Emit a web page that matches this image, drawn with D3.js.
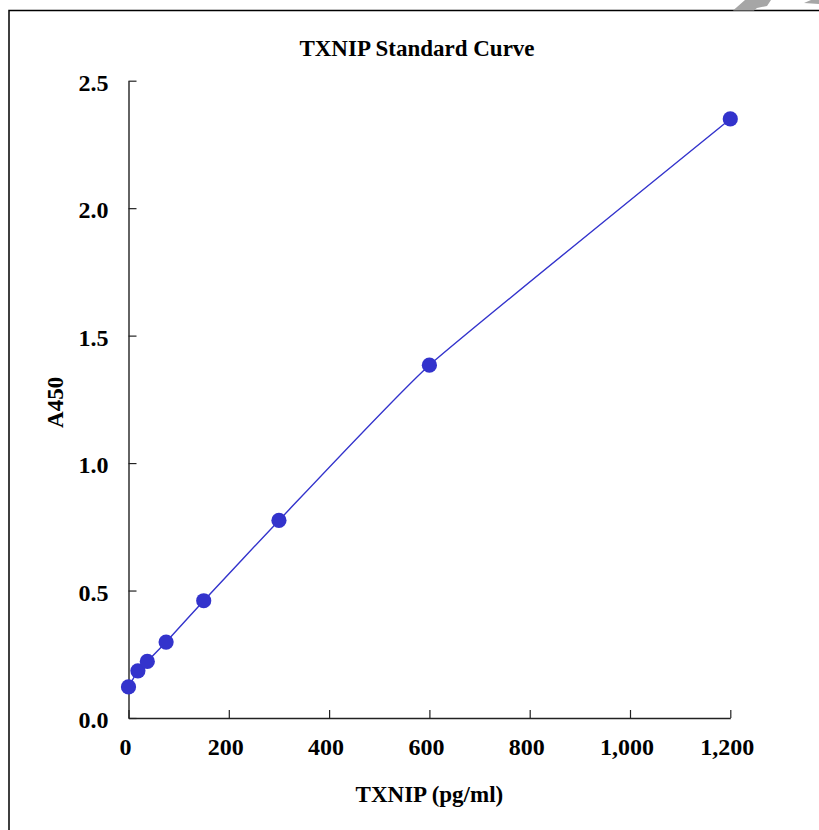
<!DOCTYPE html>
<html>
<head>
<meta charset="utf-8">
<script src="https://cdn.jsdelivr.net/npm/d3@7"></script>
<style>
  html, body { margin: 0; padding: 0; background: #fff; overflow: hidden; }
  svg text { font-family: "Liberation Serif", "Times New Roman", Times, serif !important; font-weight: 700; fill: #000; }
</style>
</head>
<body>
<div id="chart"></div>
<script>
// standard concentrations and absorbance
const concentrations = [0, 18.75, 37.5, 75, 150, 300, 600, 1200];
const absorbance = [0.122, 0.185, 0.222, 0.298, 0.460, 0.775, 1.384, 2.350];
const xTicks = [0, 200, 400, 600, 800, 1000, 1200];
const yTicks = [0, 0.5, 1.0, 1.5, 2.0, 2.5];

const width = 819;
const height = 830;
const margin = {top: 80.7, right: 88.7, bottom: 112, left: 128.5};
const innerWidth = width - margin.left - margin.right;
const innerHeight = height - margin.top - margin.bottom;

const data = concentrations.map((c, i) => ({x: c, y: absorbance[i]}));

const svg = d3.select("#chart")
  .append("svg")
    .attr("width", width)
    .attr("height", height)
    .style("display", "block");

// outer frame (top and left edges only visible)
svg.append("path")
  .attr("d", `M9,830 L9,10.5 L${width},10.5`)
  .attr("fill", "none")
  .attr("stroke", "#000")
  .attr("stroke-width", 1.5);

// grey decoration peeking in at the top right
svg.append("path")
  .attr("d", "M733,10.5 L745,0 L771,0 L767,6 L757,8 L754,10.5 Z M804,3 L811,0 L819,0 L819,4 Z")
  .attr("fill", "#a6a6a6");

const innerChart = svg.append("g")
  .attr("transform", `translate(${margin.left}, ${margin.top})`);

const xScale = d3.scaleLinear()
  .domain([0, 1200])
  .range([0, innerWidth]);

const yScale = d3.scaleLinear()
  .domain([0, 2.5])
  .range([innerHeight, 0]);

const xAxis = d3.axisBottom(xScale)
  .tickValues(xTicks)
  .tickSizeInner(-8)
  .tickSizeOuter(0)
  .tickPadding(24)
  .tickFormat(d3.format(",d"));

const yAxis = d3.axisLeft(yScale)
  .tickValues(yTicks)
  .tickSizeInner(-8)
  .tickSizeOuter(0)
  .tickPadding(20)
  .tickFormat(d3.format(".1f"));

const gx = innerChart.append("g")
  .attr("class", "x-axis")
  .attr("transform", `translate(0, ${innerHeight})`)
  .call(xAxis);

const gy = innerChart.append("g")
  .attr("class", "y-axis")
  .call(yAxis);

[gx, gy].forEach(g => {
  g.attr("font-family", null).attr("font-size", null);
  g.select(".domain").attr("stroke", "#222").attr("stroke-width", 1.4);
  g.selectAll(".tick line").attr("stroke", "#222").attr("stroke-width", 1.2);
  g.selectAll(".tick text")
    .style("font-size", "24px")
    .attr("fill", "#000");
});
gx.selectAll(".tick text").attr("dx", -3.5).attr("dy", "0.55em");
gy.selectAll(".tick text").attr("dy", "0.4em");

// fitted curve
const line = d3.line()
  .x(d => xScale(d.x))
  .y(d => yScale(d.y))
  .curve(d3.curveCardinal.tension(0.6));

innerChart.append("path")
  .datum(data)
  .attr("d", line)
  .attr("fill", "none")
  .attr("stroke", "#3333cc")
  .attr("stroke-width", 1.4);

innerChart.selectAll("circle")
  .data(data)
  .join("circle")
    .attr("cx", d => xScale(d.x))
    .attr("cy", d => yScale(d.y))
    .attr("r", 7.6)
    .attr("fill", "#3333cc");

// title and axis labels
svg.append("text")
  .text("TXNIP Standard Curve")
  .attr("x", 417)
  .attr("y", 56)
  .attr("text-anchor", "middle")
  .style("font-size", "23px");

svg.append("text")
  .text("TXNIP (pg/ml)")
  .attr("x", margin.left + innerWidth / 2)
  .attr("y", 802)
  .attr("text-anchor", "middle")
  .style("font-size", "23px");

svg.append("text")
  .text("A450")
  .attr("transform", `translate(63, ${margin.top + innerHeight / 2 + 3}) rotate(-90)`)
  .attr("text-anchor", "middle")
  .style("font-size", "23px");
</script>
</body>
</html>
